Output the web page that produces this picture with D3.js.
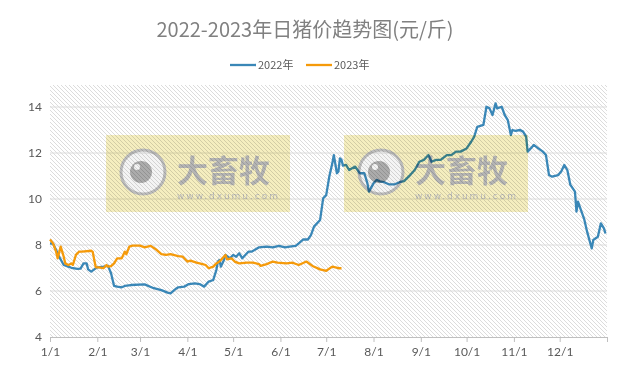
<!DOCTYPE html>
<html>
<head>
<meta charset="utf-8">
<script src="https://cdn.jsdelivr.net/npm/d3@7"></script>
<style>
  body { margin: 0; background: #fff; }
  svg { display: block; }
  .lbl { font-family: Lato, "Noto Sans", sans-serif; font-size: 12px; fill: #595959; }
</style>
</head>
<body>
<svg id="chart" width="630" height="368"></svg>
<script>
// 2022 daily price (M/D, yuan per jin)
const dates2022 = ["1/1","1/3","1/5","1/7","1/10","1/13","1/15","1/19","1/21","1/23","1/25","1/26","1/28","1/30",
  "2/1","2/5","2/8","2/10","2/12","2/14","2/17","2/19","2/23","3/4","3/10","3/15","3/19","3/21","3/24","3/26","3/30",
  "4/2","4/6","4/9","4/12","4/15","4/18","4/20","4/21","4/22","4/23","4/25","4/26","4/29",
  "5/1","5/3","5/5","5/7","5/11","5/13","5/15","5/18","5/23","5/27","5/31",
  "6/4","6/7","6/11","6/13","6/16","6/19","6/21","6/23","6/27","6/29",
  "7/1","7/3","7/5","7/6","7/8","7/9","7/10","7/11","7/12","7/14","7/16","7/20","7/23","7/26","7/28","7/29",
  "8/1","8/3","8/5","8/8","8/11","8/15","8/18","8/21","8/25","8/28","8/31",
  "9/3","9/6","9/8","9/11","9/14","9/18","9/21","9/24","9/27",
  "10/1","10/4","10/6","10/8","10/12","10/14","10/16","10/18","10/20","10/21","10/24","10/26","10/28","10/30","10/31",
  "11/2","11/5","11/7","11/9","11/10","11/12","11/14","11/17","11/20","11/22","11/24","11/26","11/30",
  "12/2","12/4","12/6","12/8","12/11","12/12","12/13","12/15","12/17","12/19","12/22","12/23","12/26","12/28","12/30","12/31"];
const price2022 = [8.07,8.05,7.78,7.49,7.13,7.06,7.01,6.96,6.97,7.2,7.2,6.94,6.84,6.94,
  7.03,7.06,7.09,6.77,6.22,6.19,6.16,6.22,6.26,6.29,6.12,6.04,5.93,5.9,6.07,6.16,6.19,
  6.3,6.33,6.3,6.19,6.41,6.48,6.91,7.28,7.35,7.06,7.35,7.57,7.42,
  7.57,7.49,7.64,7.42,7.71,7.71,7.78,7.9,7.93,7.9,7.96,
  7.9,7.93,7.96,8.07,8.24,8.24,8.43,8.8,9.09,10.03,
  10.17,10.97,11.55,11.91,11.12,11.2,11.77,11.7,11.45,11.48,11.26,11.41,11.12,11.12,10.68,10.32,
  10.68,10.83,10.77,10.73,10.64,10.64,10.73,10.78,11.04,11.26,11.62,
  11.7,11.91,11.62,11.7,11.7,11.91,11.91,12.06,12.06,
  12.2,12.49,12.71,13.14,13.22,14.01,13.94,13.65,14.16,13.94,14.01,13.65,13.43,12.78,13.0,
  12.96,13.0,12.93,12.71,12.06,12.2,12.35,12.2,12.06,11.91,11.04,10.97,11.04,
  11.2,11.48,11.26,10.61,10.32,9.45,9.88,9.51,9.14,8.57,7.85,8.22,8.36,8.94,8.72,8.5];

// 2023 daily price (M/D, yuan per jin)
const dates2023 = ["1/1","1/3","1/5","1/6","1/8","1/9","1/10","1/11","1/13","1/15","1/16","1/18","1/20","1/22","1/28","1/29","1/30","1/31",
  "2/2","2/5","2/7","2/8","2/10","2/12","2/14","2/17","2/19","2/20","2/22","2/24",
  "3/1","3/4","3/8","3/12","3/15","3/18","3/21","3/26","3/29",
  "4/1","4/3","4/7","4/11","4/13","4/15","4/18","4/20","4/22","4/24","4/26","4/27","4/30",
  "5/2","5/5","5/10","5/14","5/18","5/19","5/23","5/27","5/30",
  "6/5","6/9","6/13","6/18","6/22","6/27","7/1","7/5","7/9","7/11"];
const price2023 = [8.24,8.07,7.71,7.42,7.93,7.71,7.49,7.2,7.13,7.2,7.13,7.57,7.71,7.71,7.75,7.7,7.35,7.03,
  7.03,6.99,7.13,7.06,7.08,7.2,7.42,7.42,7.71,7.6,7.93,7.97,
  7.97,7.9,7.96,7.78,7.6,7.57,7.6,7.52,7.49,
  7.28,7.32,7.23,7.17,7.13,6.99,7.06,7.2,7.28,7.42,7.57,7.38,7.42,
  7.28,7.2,7.23,7.23,7.17,7.09,7.17,7.28,7.23,
  7.2,7.23,7.13,7.28,7.09,6.94,6.88,7.06,6.99,6.99];

const seriesNames = ["2022年", "2023年"];
const seriesColors = ["#3a87b7", "#f59a0a"];
const yTicks = [4, 6, 8, 10, 12, 14];
const monthLabels = ["1/1","2/1","3/1","4/1","5/1","6/1","7/1","8/1","9/1","10/1","11/1","12/1"];

const parse = d3.timeParse("%Y/%m/%d");
const toDate = s => parse("2022/" + s);
const series = [
  dates2022.map((d, i) => ({ date: toDate(d), v: price2022[i] })),
  dates2023.map((d, i) => ({ date: toDate(d), v: price2023[i] }))
];

const L = 50, R = 607, T = 84, B = 337;
const svg = d3.select("#chart");

const x = d3.scaleTime().domain([parse("2022/1/1"), parse("2023/1/1")]).range([L, R]);
const y = d3.scaleLinear().domain([4, 15]).range([B, T]);

// hatch background
const defs = svg.append("defs");
const pat = defs.append("pattern")
  .attr("id", "hatch").attr("patternUnits", "userSpaceOnUse")
  .attr("width", 4).attr("height", 4);
pat.append("path")
  .attr("d", "M-1,-1L5,5M3,-1L5,1M-1,3L1,5")
  .attr("stroke", "#d8d8d8").attr("stroke-width", 0.9);

svg.append("rect")
  .attr("x", L).attr("y", T + 1).attr("width", R - L).attr("height", B - T - 1)
  .attr("fill", "url(#hatch)");

// gridlines
svg.append("g").selectAll("line")
  .data(yTicks.slice(1))
  .join("line")
  .attr("x1", L).attr("x2", R)
  .attr("y1", d => y(d)).attr("y2", d => y(d))
  .attr("stroke", "#dcdcdc").attr("stroke-width", 1);

// y labels
svg.append("g").selectAll("text")
  .data(yTicks)
  .join("text")
  .attr("class", "lbl")
  .attr("x", 42).attr("y", d => y(d) + 4)
  .attr("text-anchor", "end")
  .text(d => d);

// x axis
const monthDates = monthLabels.map(toDate);
const xAxis = d3.axisBottom(x)
  .tickValues(monthDates.concat([parse("2023/1/1")]))
  .tickFormat((d, i) => monthLabels[i] || "")
  .tickSizeInner(5).tickSizeOuter(0).tickPadding(5);
const gx = svg.append("g").attr("transform", `translate(0,${B})`).call(xAxis);
gx.select(".domain").attr("stroke", "#bfbfbf");
gx.selectAll(".tick line").attr("stroke", "#bfbfbf");
gx.selectAll(".tick text").attr("class", "lbl").attr("fill", null)
  .style("font-family", "Lato, 'Noto Sans', sans-serif").style("font-size", "12px").style("fill", "#595959");

// lines
const line = d3.line().x(d => x(d.date)).y(d => y(d.v));
svg.append("g").selectAll("path")
  .data(series)
  .join("path")
  .attr("fill", "none")
  .attr("stroke", (d, i) => seriesColors[i])
  .attr("stroke-width", 2.3)
  .attr("stroke-linejoin", "round")
  .attr("d", line);

// watermarks
function drawMark(mx, my) {
  const g = svg.append("g").attr("transform", `translate(${mx},${my})`)
    .style("mix-blend-mode", "multiply");
  g.append("rect").attr("width", 184).attr("height", 77).attr("fill", "#f5eebf");
  g.append("circle").attr("cx", 37).attr("cy", 37).attr("r", 22)
    .attr("fill", "#f4f4f4").attr("stroke", "#bcbcbc").attr("stroke-width", 3);
  g.append("circle").attr("cx", 35).attr("cy", 37).attr("r", 11).attr("fill", "#ababab");
  g.append("circle").attr("cx", 31).attr("cy", 32).attr("r", 3).attr("fill", "#f4f4f4");
  g.append("text").attr("x", 71).attr("y", 47)
    .style("font-family", "'Noto Sans CJK SC', sans-serif").style("font-size", "31px")
    .style("font-weight", "bold").style("fill", "#b4b4b4")
    .text("大畜牧");
  g.append("text").attr("x", 71).attr("y", 64)
    .attr("textLength", 101).attr("lengthAdjust", "spacing")
    .style("font-family", "'DejaVu Sans', sans-serif").style("font-size", "9px")
    .style("fill", "#bbbbbb")
    .text("www.dxumu.com");
}
drawMark(106, 135);
drawMark(344, 135);

// title
svg.append("text")
  .attr("x", 305).attr("y", 37)
  .attr("text-anchor", "middle")
  .style("font-family", "'Noto Sans CJK SC', sans-serif")
  .style("font-size", "20px").style("fill", "#808080")
  .text("2022-2023年日猪价趋势图(元/斤)");

// legend
const legX = [230, 306];
const leg = svg.append("g").selectAll("g")
  .data(seriesNames)
  .join("g")
  .attr("transform", (d, i) => `translate(${legX[i]},65)`);
leg.append("line").attr("x1", 0).attr("x2", 26).attr("y1", 0).attr("y2", 0)
  .attr("stroke", (d, i) => seriesColors[i]).attr("stroke-width", 2.3);
leg.append("text").attr("x", 28).attr("y", 4)
  .style("font-family", "'Noto Sans CJK SC', sans-serif").style("font-size", "11px")
  .style("fill", "#595959")
  .text(d => d);
</script>
</body>
</html>
